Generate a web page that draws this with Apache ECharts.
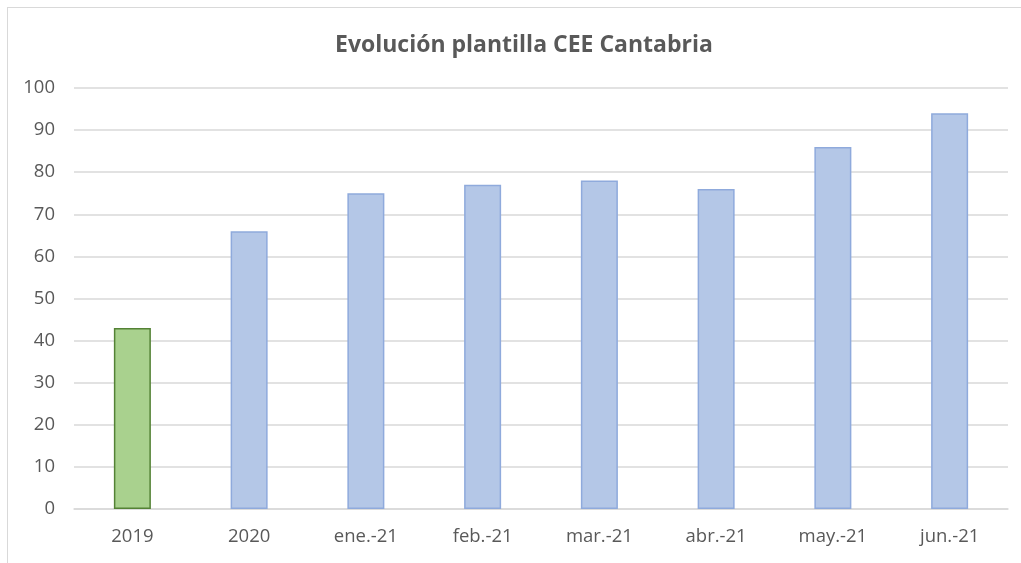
<!DOCTYPE html>
<html>
<head>
<meta charset="utf-8">
<script src="https://cdn.jsdelivr.net/npm/echarts@6/dist/echarts.min.js"></script>
<style>
  html, body { margin: 0; padding: 0; background: #fff; overflow: hidden; }
  #frame { position: absolute; left: 7px; top: 7px; width: 1100px; height: 600px; border: 1px solid #d9d9d9; }
  #chart { position: absolute; left: 0; top: 0; width: 1021px; height: 563px; }
</style>
</head>
<body>
<div id="frame"></div>
<div id="chart"></div>
<script>
var categories = ['2019', '2020', 'ene.-21', 'feb.-21', 'mar.-21', 'abr.-21', 'may.-21', 'jun.-21']
var plantilla = [43, 66, 75, 77, 78, 76, 86, 94]
var yTicks = [0, 10, 20, 30, 40, 50, 60, 70, 80, 90, 100]

var myChart = echarts.init(document.getElementById('chart'))
var option = {
  animation: false,
  title: {
    text: 'Evolución plantilla CEE Cantabria',
    left: 330,
    top: 29,
    textStyle: {
      fontFamily: 'Open Sans',
      fontSize: 23,
      fontWeight: 'bold',
      color: '#595959'
    }
  },
  grid: { left: 74, right: 13, top: 88, bottom: 54 },
  xAxis: {
    type: 'category',
    data: categories,
    axisTick: { show: false },
    axisLine: { lineStyle: { color: '#d9d9d9', width: 1.5 } },
    axisLabel: {
      margin: 18,
      fontFamily: 'Open Sans',
      fontSize: 18.5,
      color: '#595959'
    }
  },
  yAxis: {
    type: 'value',
    min: yTicks[0],
    max: yTicks[yTicks.length - 1],
    interval: 10,
    axisLine: { show: false },
    axisTick: { show: false },
    axisLabel: {
      margin: 19,
      fontFamily: 'Open Sans',
      fontSize: 18.5,
      color: '#595959'
    },
    splitLine: { lineStyle: { color: '#d9d9d9', width: 1.5 } }
  },
  series: [
    {
      type: 'bar',
      barWidth: 37,
      data: plantilla.map(function (v, i) {
        if (i === 0) {
          return { value: v, itemStyle: { color: '#a9d18e', borderColor: '#548235', borderWidth: 1.5 } }
        }
        return { value: v, itemStyle: { color: '#b4c7e7', borderColor: '#8faadc', borderWidth: 1.5 } }
      })
    }
  ]
}
myChart.setOption(option)
</script>
</body>
</html>
